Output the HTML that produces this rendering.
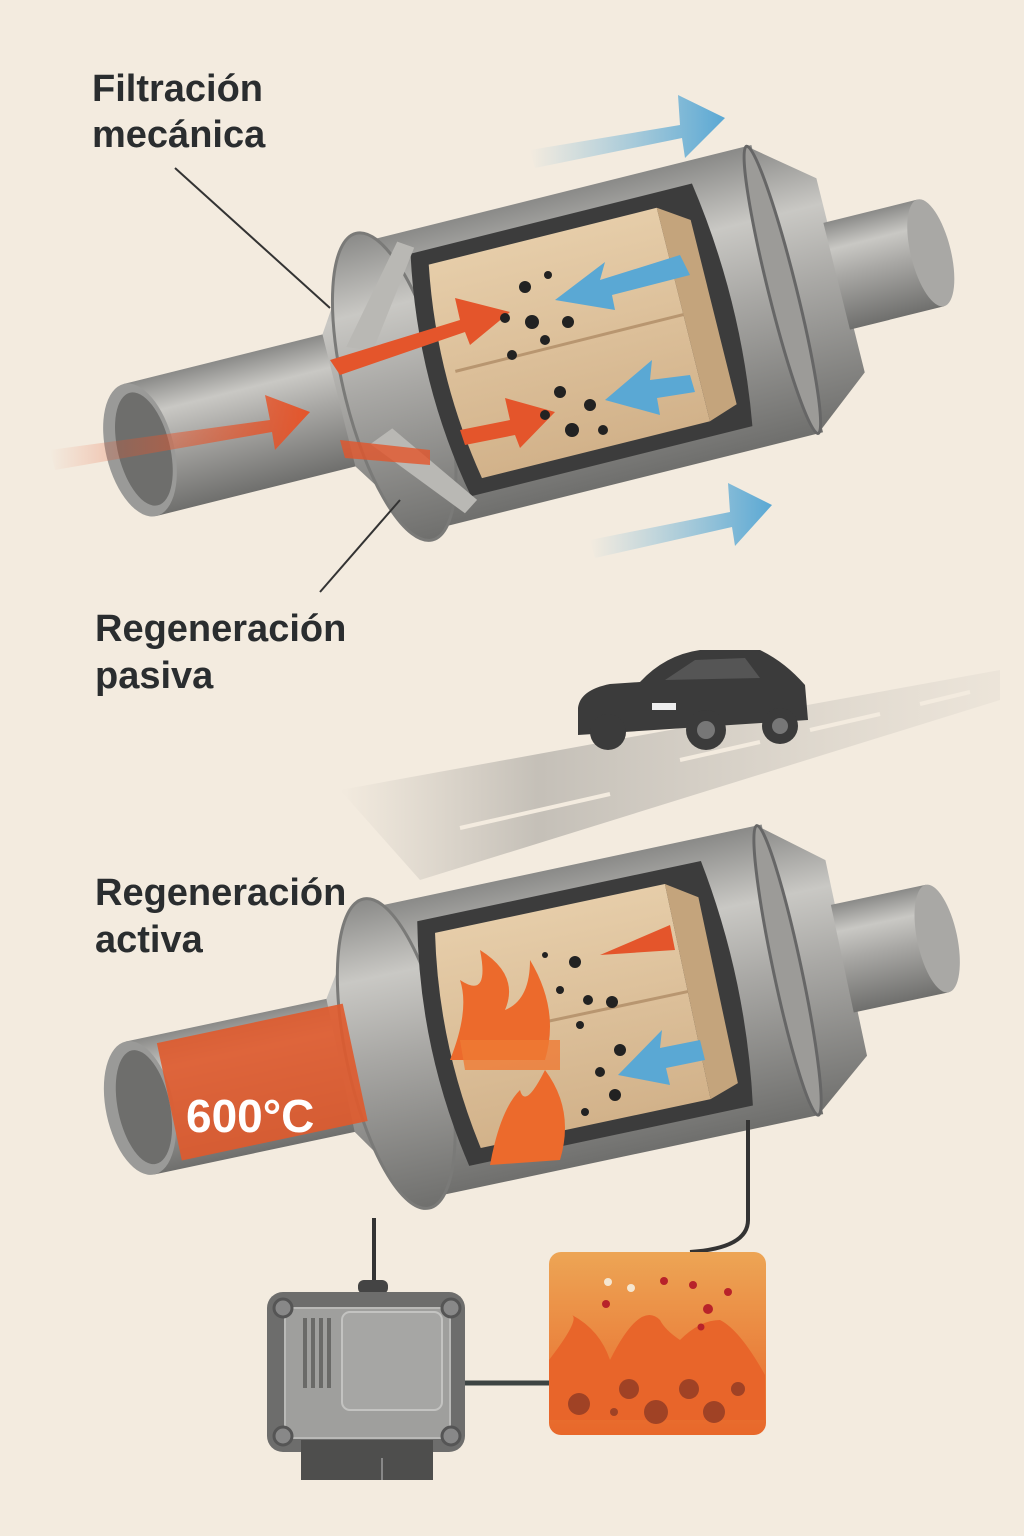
<!DOCTYPE html>
<html><head><meta charset="utf-8"><style>
html,body{margin:0;padding:0;background:#f3ebdf}
svg{display:block}
text{font-family:"Liberation Sans",sans-serif;fill:#2a2d2f;font-weight:bold}
</style></head><body>
<svg width="1024" height="1536" viewBox="0 0 1024 1536" xmlns="http://www.w3.org/2000/svg">
<defs>
<linearGradient id="metal" x1="0" y1="0" x2="0" y2="1">
<stop offset="0" stop-color="#8a8a88"/><stop offset="0.25" stop-color="#c9c8c4"/><stop offset="0.5" stop-color="#a9a8a5"/><stop offset="1" stop-color="#6f6f6d"/></linearGradient>
<linearGradient id="beige" x1="0" y1="0" x2="0" y2="1">
<stop offset="0" stop-color="#e6cda9"/><stop offset="1" stop-color="#d2b28a"/></linearGradient>
<linearGradient id="blueA" x1="0" y1="0" x2="1" y2="0">
<stop offset="0" stop-color="#6fb3d6" stop-opacity="0"/><stop offset="1" stop-color="#5aa8d4"/></linearGradient>
<linearGradient id="redA" x1="0" y1="0" x2="1" y2="0">
<stop offset="0" stop-color="#e8542a" stop-opacity="0"/><stop offset="1" stop-color="#e4552b"/></linearGradient>
<linearGradient id="road" x1="0" y1="0" x2="1" y2="0">
<stop offset="0" stop-color="#bdb8b0" stop-opacity="0"/><stop offset="0.3" stop-color="#b9b5ae"/><stop offset="1" stop-color="#c8c3bb" stop-opacity="0.2"/></linearGradient>
<linearGradient id="heat" x1="0" y1="0" x2="0" y2="1">
<stop offset="0" stop-color="#eda555"/><stop offset="1" stop-color="#e8672a"/></linearGradient>
<g id="dpf">
<rect x="0" y="-68" width="215" height="136" fill="url(#metal)"/>
<polygon points="205,-68 262,-155 262,155 205,68" fill="url(#metal)"/>
<ellipse cx="0" cy="0" rx="34" ry="68" fill="#9a9a98"/>
<ellipse cx="4" cy="0" rx="26" ry="58" fill="#6e6e6c"/>
<rect x="262" y="-148" width="405" height="296" fill="url(#metal)"/>
<ellipse cx="262" cy="0" rx="50" ry="158" fill="url(#metal)" stroke="#7a7a78" stroke-width="3"/>
<polygon points="662,-148 722,-100 722,100 662,148" fill="url(#metal)"/>
<ellipse cx="662" cy="0" rx="14" ry="148" fill="#9c9b98" stroke="#666" stroke-width="3"/>
<rect x="718" y="-55" width="97" height="110" fill="url(#metal)"/>
<ellipse cx="815" cy="0" rx="20" ry="55" fill="#a9a8a5"/>
<path d="M310,-125 L600,-125 Q620,0 600,125 L310,125 Q285,0 310,-125Z" fill="#3c3c3c"/>
<path d="M325,-110 L560,-110 L560,110 L325,110 Q305,0 325,-110Z" fill="url(#beige)"/>
<path d="M560,-110 L590,-90 L590,100 L560,110Z" fill="#c4a47c"/>
<line x1="325" y1="0" x2="560" y2="0" stroke="#b89670" stroke-width="3"/>
</g>
</defs>

<g transform="translate(140,450) rotate(-14)">
<use href="#dpf"/>
<polygon points="225,-50 300,-140 315,-130 250,-40" fill="#b9b8b4"/>
<polygon points="225,50 300,140 315,130 250,40" fill="#b9b8b4"/>
</g>
<g>
<path d="M50,450 L270,420 L265,395 L310,412 L275,450 L272,432 L55,470Z" fill="url(#redA)"/>
<path d="M330,360 L460,320 L455,298 L510,312 L470,345 L465,332 L340,375Z" fill="#e4552b"/>
<path d="M460,430 L510,420 L505,398 L555,412 L520,448 L515,435 L465,445Z" fill="#e4552b"/>
<path d="M340,440 L430,450 L430,465 L345,458Z" fill="#e4552b" opacity="0.8"/>
<path d="M680,255 L600,280 L605,262 L555,300 L615,310 L612,295 L690,275Z" fill="#5aa8d4"/>
<path d="M690,375 L650,380 L652,360 L605,400 L660,415 L657,398 L695,392Z" fill="#5aa8d4"/>
<path d="M530,150 L680,125 L678,95 L725,118 L685,158 L682,138 L535,168Z" fill="url(#blueA)"/>
<path d="M590,540 L730,512 L728,483 L772,505 L735,546 L732,527 L595,558Z" fill="url(#blueA)"/>
<g fill="#222">
<circle cx="525" cy="287" r="6"/><circle cx="548" cy="275" r="4"/><circle cx="505" cy="318" r="5"/><circle cx="532" cy="322" r="7"/><circle cx="568" cy="322" r="6"/><circle cx="545" cy="340" r="5"/><circle cx="512" cy="355" r="5"/><circle cx="560" cy="392" r="6"/><circle cx="590" cy="405" r="6"/><circle cx="545" cy="415" r="5"/><circle cx="572" cy="430" r="7"/><circle cx="603" cy="430" r="5"/></g>
</g>
<line x1="175" y1="168" x2="330" y2="308" stroke="#333" stroke-width="2"/>
<line x1="320" y1="592" x2="400" y2="500" stroke="#333" stroke-width="2"/>
<text x="92" y="101" font-size="38">Filtración</text>
<text x="92" y="147" font-size="38">mecánica</text>
<text x="95" y="641" font-size="38">Regeneración</text>
<text x="95" y="688" font-size="38">pasiva</text>

<path d="M340,790 L1000,670 L1000,700 L420,880 Z" fill="url(#road)" opacity="0.8"/>
<g stroke="#f3ebdf" stroke-width="4">
<line x1="460" y1="828" x2="610" y2="794"/><line x1="680" y1="760" x2="760" y2="742"/><line x1="810" y1="730" x2="880" y2="714"/><line x1="920" y1="704" x2="970" y2="692"/></g>
<g fill="#3b3b3b">
<path d="M578,708 Q580,690 610,684 L640,682 Q665,655 700,650 L760,650 Q785,662 805,685 L808,720 L578,735Z"/>
<circle cx="608" cy="732" r="18"/><circle cx="706" cy="730" r="20"/><circle cx="780" cy="726" r="18"/>
</g>
<path d="M665,680 L695,660 L745,658 L760,678Z" fill="#555"/>
<rect x="652" y="703" width="24" height="7" fill="#eee"/>
<circle cx="706" cy="730" r="9" fill="#777"/><circle cx="780" cy="726" r="8" fill="#777"/>

<g transform="translate(140,1108) rotate(-12)">
<use href="#dpf"/>
<rect x="30" y="-60" width="190" height="120" fill="#e05a2c" opacity="0.9"/>
</g>
<text x="186" y="1132" font-size="46" style="fill:#fff">600°C</text>
<g>
<path d="M450,1060 Q470,1010 460,980 Q490,1000 480,950 Q520,975 505,1010 Q530,1000 530,960 Q560,1010 545,1060Z" fill="#ec6a2c"/>
<path d="M490,1165 Q500,1110 520,1090 Q525,1110 545,1070 Q575,1110 560,1160Z" fill="#ec6a2c"/>
<path d="M460,1040 L560,1040 L560,1070 L465,1070Z" fill="#ef7a34" opacity="0.8"/>
<path d="M600,955 L670,925 L675,950Z" fill="#e4552b"/>
<path d="M700,1040 L660,1048 L662,1030 L618,1075 L670,1085 L666,1068 L705,1060Z" fill="#5aa8d4"/>
<g fill="#222"><circle cx="575" cy="962" r="6"/><circle cx="545" cy="955" r="3"/><circle cx="560" cy="990" r="4"/><circle cx="588" cy="1000" r="5"/><circle cx="612" cy="1002" r="6"/><circle cx="580" cy="1025" r="4"/><circle cx="620" cy="1050" r="6"/><circle cx="600" cy="1072" r="5"/><circle cx="615" cy="1095" r="6"/><circle cx="585" cy="1112" r="4"/></g>
</g>
<text x="95" y="905" font-size="38">Regeneración</text>
<text x="95" y="952" font-size="38">activa</text>

<path d="M374,1218 L374,1285" stroke="#333" stroke-width="4" fill="none"/>
<path d="M748,1120 L748,1220 Q748,1248 690,1252" stroke="#333" stroke-width="4" fill="none"/>
<line x1="465" y1="1383" x2="550" y2="1383" stroke="#3d4443" stroke-width="5"/>
<rect x="358" y="1280" width="30" height="14" rx="6" fill="#444"/>
<rect x="267" y="1292" width="198" height="160" rx="16" fill="#6d6d6c"/>
<rect x="285" y="1308" width="165" height="130" rx="8" fill="#9f9f9d" stroke="#b9b9b7" stroke-width="2"/>
<rect x="342" y="1312" width="100" height="98" rx="8" fill="#a6a6a4" stroke="#c3c3c1" stroke-width="2"/>
<g fill="#6a6a68"><rect x="303" y="1318" width="4" height="70"/><rect x="311" y="1318" width="4" height="70"/><rect x="319" y="1318" width="4" height="70"/><rect x="327" y="1318" width="4" height="70"/></g>
<g fill="#888" stroke="#555" stroke-width="3"><circle cx="283" cy="1308" r="9"/><circle cx="451" cy="1308" r="9"/><circle cx="283" cy="1436" r="9"/><circle cx="451" cy="1436" r="9"/></g>
<rect x="301" y="1440" width="132" height="40" fill="#4e4e4d"/>
<line x1="382" y1="1458" x2="382" y2="1480" stroke="#888" stroke-width="2"/>
<rect x="549" y="1252" width="217" height="183" rx="12" fill="url(#heat)"/>
<path d="M549,1380 L549,1360 Q580,1320 572,1315 Q600,1330 610,1360 Q640,1300 660,1320 Q665,1330 680,1340 Q700,1320 720,1320 Q740,1330 765,1375 L765,1420 L549,1420Z" fill="#e8652a"/>
<g fill="#8f3a24" opacity="0.8"><circle cx="579" cy="1404" r="11"/><circle cx="629" cy="1389" r="10"/><circle cx="656" cy="1412" r="12"/><circle cx="689" cy="1389" r="10"/><circle cx="714" cy="1412" r="11"/><circle cx="738" cy="1389" r="7"/><circle cx="614" cy="1412" r="4"/></g>
<g fill="#b8232a"><circle cx="664" cy="1281" r="4"/><circle cx="693" cy="1285" r="4"/><circle cx="728" cy="1292" r="4"/><circle cx="606" cy="1304" r="4"/><circle cx="708" cy="1309" r="5"/><circle cx="701" cy="1327" r="3.5"/></g>
<g fill="#f5e6d0"><circle cx="608" cy="1282" r="4"/><circle cx="631" cy="1288" r="4"/></g>
</svg>
</body></html>
